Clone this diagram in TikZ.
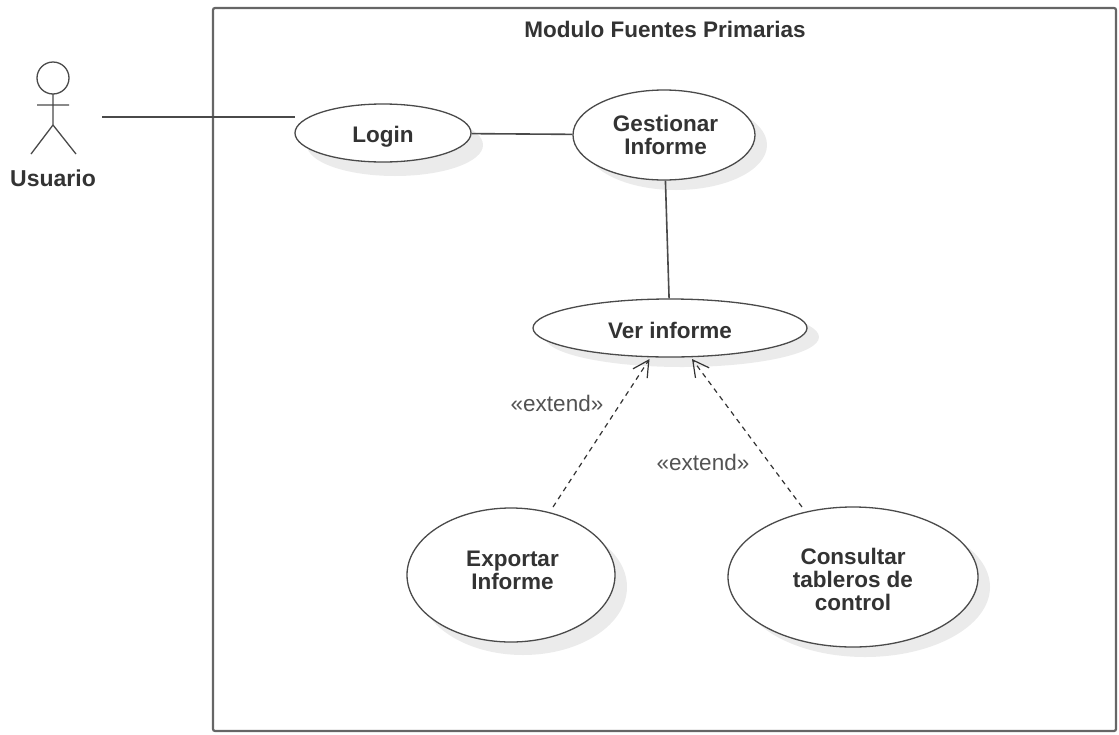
\documentclass[tikz,border=0pt]{standalone}
\usepackage{fontspec}
\setmainfont{Liberation Sans}
\usetikzlibrary{shapes.geometric,arrows.meta}
\definecolor{ink}{HTML}{333333}
\definecolor{edge}{HTML}{4A4A4A}
\definecolor{frameink}{HTML}{666666}
\definecolor{shade}{HTML}{EBEBEB}
\newcommand{\padded}[3]{\vbox{\kern#1\hbox{\begin{tabular}{@{}c@{}}#3\end{tabular}}\kern#2}}
\tikzset{
  x=1pt,y=-1pt,
  uc/.style={draw=edge,line width=1.3pt,fill=white,ellipse,inner sep=0pt,align=center,font=\bfseries\fontsize{22.5}{23}\selectfont,text=ink},
  ln/.style={draw=edge,line width=1.6pt},
  framebox/.style={draw=frameink,line width=2.2pt,rounded corners=2pt},
  actorline/.style={draw=edge,line width=1.3pt},
  dep/.style={draw=ink,line width=1.2pt,dash pattern=on 5pt off 4.5pt,-{Straight Barb[length=16pt,width=17pt,line width=1.2pt]}},
  lab/.style={font=\fontsize{22.5}{23}\selectfont,text=ink!85},
  shad/.style={fill=shade,draw=none},
}
\begin{document}
\begin{tikzpicture}
\useasboundingbox (0,0) rectangle (1119,734);
\draw[framebox] (213,8) rectangle (1116,731);
\node[font=\bfseries\fontsize{22.5}{23}\selectfont,text=ink] (title) at (665,29) {Modulo Fuentes Primarias};
\fill[shad] (395,145) ellipse (88 and 31);
\fill[shad] (676,145) ellipse (91 and 45);
\fill[shad] (682,337) ellipse (137 and 30);
\fill[shad] (523,587) ellipse (104 and 68);
\fill[shad] (865,587) ellipse (125 and 70);
\node[uc,minimum width=176pt,minimum height=58pt] (login) at (383,133) {\padded{10pt}{0pt}{Login}};
\node[uc,minimum width=182pt,minimum height=90pt] (gest) at (664,135) {\padded{6pt}{0pt}{\hspace{3pt}Gestionar\\\hspace{3pt}Informe}};
\node[uc,minimum width=274pt,minimum height=58pt] (ver) at (670,328) {\padded{12pt}{0pt}{Ver informe}};
\node[uc,minimum width=208pt,minimum height=134pt] (exp) at (511,575) {\padded{0pt}{3pt}{\hspace{3pt}Exportar\\\hspace{3pt}Informe}};
\node[uc,minimum width=250pt,minimum height=140pt] (cons) at (853,577) {\padded{12pt}{0pt}{Consultar\\tableros de\\control}};
% actor
\draw[actorline,fill=white] (53,78) circle (16);
\coordinate (hand) at (102,117);
\draw[actorline] (53,94) -- (53,125) (37,105) -- (69,105) (53,125) -- (31,154) (53,125) -- (76,154);
\node[font=\bfseries\fontsize{23}{23}\selectfont,text=ink] (usr) at (53,178) {Usuario};
\coordinate (loginL) at (295,117);
\draw[ln] (hand) -- (loginL);
\draw[ln] (login) -- (gest);
\draw[ln] (gest) -- (ver);
\coordinate (e1) at (553,507);
\coordinate (e2) at (802,507);
\coordinate (t1) at (649.5,359);
\coordinate (t2) at (692,359);
\draw[dep] (e1) -- (t1);
\draw[dep] (e2) -- (t2);
\node[lab] (l1) at (557,403) {«extend»};
\node[lab] (l2) at (703,462) {«extend»};
\end{tikzpicture}
\end{document}
